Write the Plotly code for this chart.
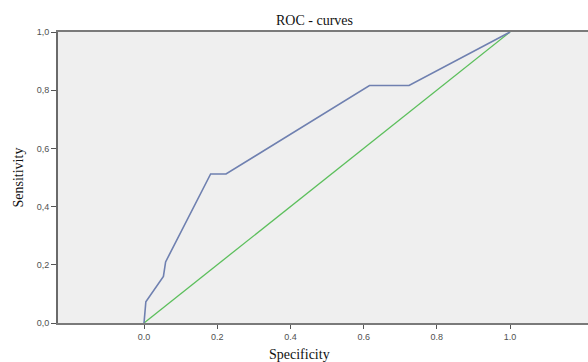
import plotly.graph_objects as go

# Data
roc_x = [0.0, 0.005, 0.053, 0.059, 0.182, 0.224, 0.616, 0.724, 1.0]
roc_y = [0.0, 0.073, 0.160, 0.210, 0.512, 0.512, 0.816, 0.816, 1.0]
ref_x = [0.0, 1.0]
ref_y = [0.0, 1.0]

x_tickvals = [0.0, 0.2, 0.4, 0.6, 0.8, 1.0]
x_ticktext = ["0.0", "0.2", "0.4", "0.6", "0.8", "1.0"]
y_tickvals = [0.0, 0.2, 0.4, 0.6, 0.8, 1.0]
y_ticktext = ["0,0", "0,2", "0,4", "0,6", "0,8", "1,0"]

fig = go.Figure()
fig.add_trace(go.Scatter(x=ref_x, y=ref_y, mode="lines",
                         line=dict(color="#5cbf5c", width=1.3), hoverinfo="skip"))
fig.add_trace(go.Scatter(x=roc_x, y=roc_y, mode="lines",
                         line=dict(color="#6f80b0", width=1.6), hoverinfo="skip"))

tick_font = dict(family="Liberation Sans, Arial, sans-serif", size=9, color="#505050")

fig.update_layout(
    width=588, height=362,
    margin=dict(l=58, r=0, t=32, b=39),
    paper_bgcolor="white",
    plot_bgcolor="#efefef",
    showlegend=False,
    xaxis=dict(range=[-0.235, 1.213], tickvals=x_tickvals, ticktext=x_ticktext,
               showgrid=False, zeroline=False, showline=True, linecolor="#7a7a7a",
               linewidth=1.5, mirror=True, ticks="outside", ticklen=4, tickwidth=1,
               tickcolor="#555555", tickfont=tick_font, fixedrange=True),
    yaxis=dict(range=[0, 1], tickvals=y_tickvals, ticktext=y_ticktext,
               showgrid=False, zeroline=False, showline=True, linecolor="#6a6a6a",
               linewidth=2, ticks="outside", ticklen=5, tickwidth=1,
               tickcolor="#555555", tickfont=tick_font, fixedrange=True),
    annotations=[
        dict(text="ROC - curves", xref="paper", yref="paper", x=(314 - 58) / 530, y=1,
             yshift=2, xanchor="center", yanchor="bottom", showarrow=False,
             font=dict(family="Liberation Serif, Times New Roman, serif", size=14, color="#111111")),
        dict(text="Specificity", xref="paper", yref="paper", x=(299 - 58) / 530, y=0,
             yshift=-22, xanchor="center", yanchor="top", showarrow=False,
             font=dict(family="Liberation Serif, Times New Roman, serif", size=14, color="#111111")),
        dict(text="Sensitivity", xref="paper", yref="paper", x=0, xshift=-40, y=0.5,
             xanchor="center", yanchor="middle", textangle=-90, showarrow=False,
             font=dict(family="Liberation Serif, Times New Roman, serif", size=14, color="#111111")),
    ],
)

fig.write_html("out.html", config={"displayModeBar": False},
               post_script="document.body.style.margin='0';document.body.style.overflow='hidden';")
